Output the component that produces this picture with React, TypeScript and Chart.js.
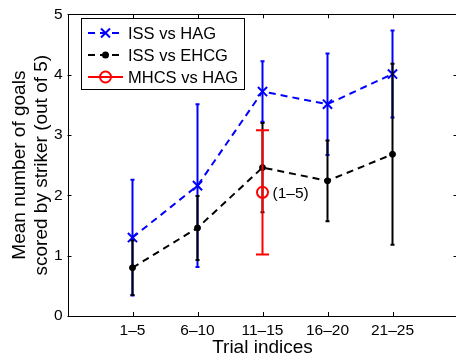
import React, { useEffect, useRef } from "react";
import { Chart, registerables } from "chart.js";

Chart.register(...registerables);

const categories = ["1–5", "6–10", "11–15", "16–20", "21–25"];
const yTickValues = [0, 1, 2, 3, 4, 5];

const issHagMean = [1.3, 2.16, 3.72, 3.51, 4.01];
const issHagErr = [0.96, 1.35, 0.5, 0.84, 0.72];

const issEhcgMean = [0.8, 1.46, 2.46, 2.24, 2.68];
const issEhcgErr = [0.45, 0.53, 0.74, 0.67, 1.5];

const mhcsHagCategory = [3];
const mhcsHagMean = [2.05];
const mhcsHagErr = [1.03];
const mhcsNote = "(1–5)";

const seriesLabels = ["ISS vs HAG", "ISS vs EHCG", "MHCS vs HAG"];
const xTitle = "Trial indices";
const yTitle = ["Mean number of goals", "scored by striker (out of 5)"];

const FONT = "'Liberation Sans', Arial, Helvetica, sans-serif";
const BLUE = "#0000ff";
const BLACK = "#000000";
const RED = "#ff0000";

function drawMarker(ctx: CanvasRenderingContext2D, style: string, x: number, y: number, color: string) {
  ctx.save();
  ctx.setLineDash([]);
  if (style === "cross") {
    const h = 4.5;
    ctx.strokeStyle = color;
    ctx.lineWidth = 2;
    ctx.beginPath();
    ctx.moveTo(x - h, y - h);
    ctx.lineTo(x + h, y + h);
    ctx.moveTo(x - h, y + h);
    ctx.lineTo(x + h, y - h);
    ctx.stroke();
  } else if (style === "dot") {
    ctx.fillStyle = color;
    ctx.beginPath();
    ctx.arc(x, y, 3.5, 0, Math.PI * 2);
    ctx.fill();
  } else {
    ctx.strokeStyle = color;
    ctx.lineWidth = 2;
    ctx.beginPath();
    ctx.arc(x, y, 5.5, 0, Math.PI * 2);
    ctx.stroke();
  }
  ctx.restore();
}

const errorBarPlugin = {
  id: "errorBars",
  beforeDatasetDraw(chart: any, args: any) {
    const ds = chart.data.datasets[args.index];
    const err: number[] = ds.errorBars;
    if (!err) return;
    const { ctx } = chart;
    const x = chart.scales.x;
    const y = chart.scales.y;
    const c = ds.capHalf;
    ctx.save();
    ctx.strokeStyle = ds.borderColor;
    ctx.lineWidth = 2;
    ctx.setLineDash([]);
    ds.data.forEach((p: any, i: number) => {
      const px = x.getPixelForValue(p.x);
      const top = y.getPixelForValue(p.y + err[i]);
      const bot = y.getPixelForValue(p.y - err[i]);
      ctx.beginPath();
      ctx.moveTo(px, top);
      ctx.lineTo(px, bot);
      ctx.moveTo(px - c, top);
      ctx.lineTo(px + c, top);
      ctx.moveTo(px - c, bot);
      ctx.lineTo(px + c, bot);
      ctx.stroke();
    });
    ctx.restore();
  },
};

const frameAndLegendPlugin = {
  id: "frameLegend",
  afterDraw(chart: any) {
    const { ctx, chartArea } = chart;
    const x = chart.scales.x;
    const y = chart.scales.y;
    const { left, right, top, bottom } = chartArea;
    ctx.save();
    ctx.setLineDash([]);
    ctx.strokeStyle = "#000";
    ctx.lineWidth = 1;
    // box
    ctx.strokeRect(Math.round(left) + 0.5, Math.round(top) + 0.5, Math.round(right - left), Math.round(bottom - top));
    // inward ticks
    const tl = 4;
    ctx.beginPath();
    x.ticks.forEach((t: any) => {
      const px = Math.round(x.getPixelForValue(t.value)) + 0.5;
      ctx.moveTo(px, bottom);
      ctx.lineTo(px, bottom - tl);
      ctx.moveTo(px, top);
      ctx.lineTo(px, top + tl);
    });
    y.ticks.forEach((t: any) => {
      const py = Math.round(y.getPixelForValue(t.value)) + 0.5;
      ctx.moveTo(left, py);
      ctx.lineTo(left + tl, py);
      ctx.moveTo(right, py);
      ctx.lineTo(right - tl, py);
    });
    ctx.stroke();

    // annotation next to red point
    const rx = x.getPixelForValue(mhcsHagCategory[0]);
    const ry = y.getPixelForValue(mhcsHagMean[0]);
    ctx.fillStyle = "#000";
    ctx.font = `15.5px ${FONT}`;
    ctx.textBaseline = "middle";
    ctx.textAlign = "left";
    ctx.fillText(mhcsNote, rx + 10, ry + 1);

    // legend
    const bx = 81.5, by = 18.5, bw = 163, bh = 71;
    ctx.fillStyle = "#fff";
    ctx.fillRect(bx, by, bw, bh);
    ctx.strokeStyle = "#000";
    ctx.lineWidth = 1;
    ctx.strokeRect(bx, by, bw, bh);
    const rows = [33, 55, 77];
    const colors = [BLUE, BLACK, RED];
    const markers = ["cross", "dot", "circle"];
    const dashes = [[7, 5], [7, 5], []];
    rows.forEach((ry2, i) => {
      ctx.save();
      ctx.strokeStyle = colors[i];
      ctx.lineWidth = 2;
      ctx.setLineDash(dashes[i]);
      ctx.beginPath();
      ctx.moveTo(88, ry2);
      ctx.lineTo(123, ry2);
      ctx.stroke();
      ctx.restore();
      drawMarker(ctx, markers[i], 105.5, ry2, colors[i]);
      ctx.fillStyle = "#000";
      ctx.font = `16.5px ${FONT}`;
      ctx.textBaseline = "middle";
      ctx.textAlign = "left";
      ctx.fillText(seriesLabels[i], 128, ry2 + 1);
    });
    ctx.restore();
  },
};

export default function App() {
  const canvasRef = useRef<HTMLCanvasElement | null>(null);

  useEffect(() => {
    if (!canvasRef.current) return;
    const chart = new Chart(canvasRef.current, {
      type: "line",
      data: {
        datasets: [
          {
            label: seriesLabels[0],
            data: issHagMean.map((v, i) => ({ x: i + 1, y: v })),
            borderColor: BLUE,
            backgroundColor: BLUE,
            borderWidth: 2,
            borderDash: [7, 5],
            pointStyle: "crossRot",
            pointRadius: 6.5,
            pointBorderWidth: 2,
            pointBorderColor: BLUE,
            order: 3,
            errorBars: issHagErr,
            capHalf: 2,
          } as any,
          {
            label: seriesLabels[1],
            data: issEhcgMean.map((v, i) => ({ x: i + 1, y: v })),
            borderColor: BLACK,
            backgroundColor: BLACK,
            borderWidth: 2,
            borderDash: [7, 5],
            pointStyle: "circle",
            pointRadius: 3,
            pointBorderWidth: 1,
            pointBackgroundColor: BLACK,
            pointBorderColor: BLACK,
            order: 2,
            errorBars: issEhcgErr,
            capHalf: 2,
          } as any,
          {
            label: seriesLabels[2],
            data: mhcsHagMean.map((v, i) => ({ x: mhcsHagCategory[i], y: v })),
            borderColor: RED,
            backgroundColor: "rgba(0,0,0,0)",
            borderWidth: 2,
            pointStyle: "circle",
            pointRadius: 5.5,
            pointBorderWidth: 2,
            pointBorderColor: RED,
            pointBackgroundColor: "rgba(0,0,0,0)",
            order: 1,
            errorBars: mhcsHagErr,
            capHalf: 6.5,
          } as any,
        ],
      },
      options: {
        responsive: false,
        maintainAspectRatio: false,
        animation: false,
        events: [],
        layout: { padding: { left: 0, right: 12.5, top: 10.7, bottom: 0 } },
        plugins: {
          legend: { display: false },
          tooltip: { enabled: false },
        },
        scales: {
          x: {
            type: "linear",
            min: 0,
            max: 6,
            afterBuildTicks: (s: any) => {
              s.ticks = categories.map((_, i) => ({ value: i + 1 }));
            },
            afterFit: (s: any) => {
              s.height = 40;
            },
            ticks: {
              autoSkip: false,
              maxRotation: 0,
              padding: 5,
              color: "#000",
              font: { family: FONT, size: 15.5 },
              callback: (v: any) => categories[Number(v) - 1] ?? "",
            },
            grid: { display: false, drawTicks: false },
            border: { display: false },
            title: {
              display: true,
              text: xTitle,
              color: "#000",
              font: { family: FONT, size: 19, lineHeight: 0.85 },
              padding: 0,
            },
          },
          y: {
            min: 0,
            max: 5,
            afterBuildTicks: (s: any) => {
              s.ticks = yTickValues.map((v) => ({ value: v }));
            },
            afterFit: (s: any) => {
              s.width = 67.5;
            },
            ticks: {
              padding: 5,
              color: "#000",
              font: { family: FONT, size: 15.5 },
              callback: (v: any) => String(v),
            },
            grid: { display: false, drawTicks: false },
            border: { display: false },
            title: {
              display: true,
              text: yTitle,
              color: "#000",
              font: { family: FONT, size: 19, lineHeight: 1.12 },
              padding: { top: 9.4, bottom: 0 },
            },
          },
        },
      } as any,
      plugins: [errorBarPlugin, frameAndLegendPlugin],
    });
    return () => chart.destroy();
  }, []);

  return (
    <div
      style={{
        position: "fixed",
        left: 0,
        top: 0,
        width: 456,
        height: 356,
        overflow: "hidden",
        background: "#fff",
      }}
    >
      <canvas ref={canvasRef} width={470} height={356} style={{ width: 470, height: 356, display: "block" }} />
    </div>
  );
}
